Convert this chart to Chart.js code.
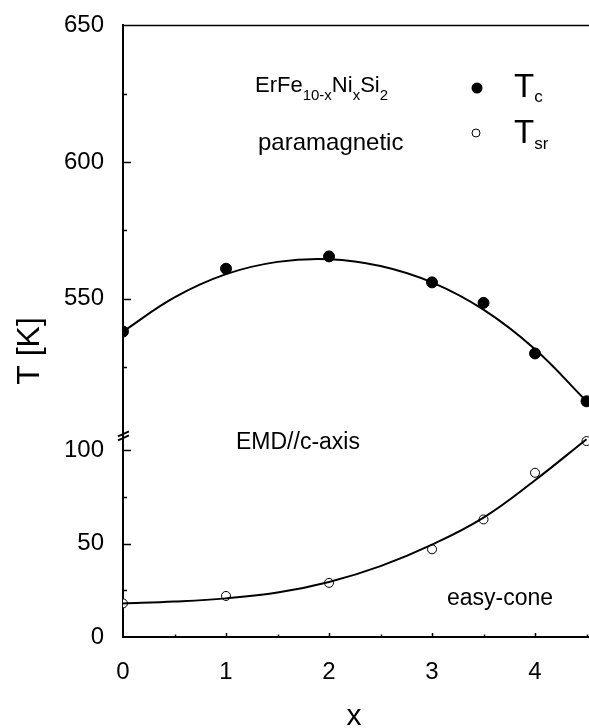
<!DOCTYPE html>
<html>
<head>
<meta charset="utf-8">
<script src="https://cdn.jsdelivr.net/npm/chart.js@4"></script>
<style>
  html, body { margin: 0; padding: 0; background: #fff; overflow: hidden; }
  #wrap { width: 589px; height: 728px; position: relative; }
</style>
</head>
<body>
<div id="wrap"><canvas id="chart"></canvas></div>
<script>
// valores
const xMedidos = [0, 1, 2, 3, 3.5, 4, 4.5];
const tcMedidos = [538, 561, 565.5, 556, 548.5, 530, 512.5];
const tsrMedidos = [18, 22, 29, 47, 63, 88, 105];

// curvas de ajuste
const xAjuste = [0, 0.5, 1, 1.5, 2, 2.5, 3, 3.5, 4, 4.5];
const tcAjuste = [538, 550.5, 559, 563.5, 564.5, 562, 556, 546, 531.5, 512.5];
const tsrAjuste = [18, 19, 20.7, 23.8, 29.5, 38, 49.5, 64, 84, 106];

const xTicks = [0, 1, 2, 3, 4];
const ticksArriba = [550, 600, 650];
const ticksAbajo = [0, 50, 100];

const FONT = "'Liberation Sans', Arial, sans-serif";

const pares = (xs, ys) => xs.map((x, i) => ({ x, y: ys[i] }));

// texto con subindices: [[texto, esSub], ...]
function textoSub(ctx, x, y, partes, size, subSize, subDy) {
  let cx = x;
  partes.forEach(([t, sub]) => {
    ctx.font = `${sub ? subSize : size}px ${FONT}`;
    ctx.fillText(t, cx, sub ? y + subDy : y);
    cx += ctx.measureText(t).width;
  });
}

const decoracion = {
  id: 'decoracion',
  afterDraw(chart) {
    const { ctx, chartArea, scales } = chart;
    const xs = scales.x, yA = scales.yArriba, yB = scales.yAbajo;
    ctx.save();
    ctx.strokeStyle = '#000';
    ctx.fillStyle = '#000';

    // marco superior
    ctx.lineWidth = 1.5;
    ctx.beginPath();
    ctx.moveTo(chartArea.left, chartArea.top);
    ctx.lineTo(chartArea.right, chartArea.top);
    ctx.stroke();

    // ticks hacia adentro
    ctx.lineWidth = 1.5;
    const tickY = (scale, v, len) => {
      const p = Math.round(scale.getPixelForValue(v)) + 0.5;
      ctx.beginPath();
      ctx.moveTo(chartArea.left, p);
      ctx.lineTo(chartArea.left + len, p);
      ctx.stroke();
    };
    [550, 600].forEach(v => tickY(yA, v, 8));
    [525, 575, 625].forEach(v => tickY(yA, v, 4));
    [50, 100].forEach(v => tickY(yB, v, 8));
    [25, 75].forEach(v => tickY(yB, v, 4));
    const tickX = (v, len) => {
      const p = Math.round(xs.getPixelForValue(v)) + 0.5;
      ctx.beginPath();
      ctx.moveTo(p, chartArea.bottom);
      ctx.lineTo(p, chartArea.bottom - len);
      ctx.stroke();
    };
    [1, 2, 3, 4].forEach(v => tickX(v, 4));
    [0.5, 1.5, 2.5, 3.5, 4.5].forEach(v => tickX(v, 2.5));

    // corte del eje
    const yc = yA.bottom;
    ctx.lineWidth = 2;
    [-2, 2].forEach(d => {
      ctx.beginPath();
      ctx.moveTo(chartArea.left - 5, yc + d + 3);
      ctx.lineTo(chartArea.left + 6, yc + d - 2);
      ctx.stroke();
    });

    // titulos de ejes
    ctx.textBaseline = 'alphabetic';
    ctx.textAlign = 'center';
    ctx.font = `32px ${FONT}`;
    ctx.save();
    ctx.translate(39, 351);
    ctx.rotate(-Math.PI / 2);
    ctx.fillText('T [K]', 0, 0);
    ctx.restore();
    ctx.font = `30px ${FONT}`;
    ctx.fillText('x', 354, 725);

    // anotaciones
    ctx.textAlign = 'left';
    textoSub(ctx, 255, 92, [['ErFe', false], ['10-x', true], ['Ni', false], ['x', true], ['Si', false], ['2', true]], 22, 15, 8);
    ctx.font = `24px ${FONT}`;
    ctx.fillText('paramagnetic', 258, 150);
    ctx.font = `23px ${FONT}`;
    ctx.fillText('EMD//c-axis', 236, 449);
    ctx.fillText('easy-cone', 447, 605);

    // leyenda
    ctx.beginPath();
    ctx.arc(477, 88, 5.5, 0, Math.PI * 2);
    ctx.fill();
    ctx.lineWidth = 1;
    ctx.beginPath();
    ctx.arc(476, 133, 4, 0, Math.PI * 2);
    ctx.stroke();
    textoSub(ctx, 514, 97, [['T', false], ['c', true]], 33, 17, 5);
    textoSub(ctx, 514, 143, [['T', false], ['sr', true]], 33, 17, 6);

    ctx.restore();
  }
};

new Chart(document.getElementById('chart'), {
  type: 'scatter',
  data: {
    datasets: [
      {
        label: 'Tc ajuste', data: pares(xAjuste, tcAjuste), yAxisID: 'yArriba',
        showLine: true, borderColor: '#000', borderWidth: 2, pointRadius: 0, tension: 0.4
      },
      {
        label: 'Tsr ajuste', data: pares(xAjuste, tsrAjuste), yAxisID: 'yAbajo',
        showLine: true, borderColor: '#000', borderWidth: 2, pointRadius: 0, tension: 0.4
      },
      {
        label: 'Tc', data: pares(xMedidos, tcMedidos), yAxisID: 'yArriba',
        pointRadius: 5.5, backgroundColor: '#000', borderColor: '#000', borderWidth: 1
      },
      {
        label: 'Tsr', data: pares(xMedidos, tsrMedidos), yAxisID: 'yAbajo',
        pointRadius: 4.5, backgroundColor: '#fff', borderColor: '#000', borderWidth: 1
      }
    ]
  },
  options: {
    responsive: true,
    maintainAspectRatio: false,
    animation: false,
    events: [],
    layout: { autoPadding: false, padding: { top: 24, right: 0, left: 0, bottom: 0 } },
    plugins: { legend: { display: false }, tooltip: { enabled: false } },
    scales: {
      x: {
        type: 'linear', min: 0, max: 4.524,
        grid: { display: false },
        border: { display: true, color: '#000', width: 2 },
        afterFit: s => { s.height = 91; },
        afterBuildTicks: s => { s.ticks = xTicks.map(v => ({ value: v })); },
        ticks: { color: '#000', font: { family: FONT, size: 24 }, padding: 13, maxRotation: 0 }
      },
      yArriba: {
        type: 'linear', position: 'left', stack: 'y', stackWeight: 411, weight: 2,
        min: 500, max: 650,
        grid: { display: false },
        border: { display: true, color: '#000', width: 2 },
        afterFit: s => { s.width = 123; },
        afterBuildTicks: s => { s.ticks = ticksArriba.map(v => ({ value: v })); },
        ticks: { color: '#000', font: { family: FONT, size: 24 }, padding: 11 }
      },
      yAbajo: {
        type: 'linear', position: 'left', stack: 'y', stackWeight: 202, weight: 1,
        min: 0, max: 108,
        grid: { display: false },
        border: { display: true, color: '#000', width: 2 },
        afterFit: s => { s.width = 123; },
        afterBuildTicks: s => { s.ticks = ticksAbajo.map(v => ({ value: v })); },
        ticks: { color: '#000', font: { family: FONT, size: 24 }, padding: 11 }
      }
    }
  },
  plugins: [decoracion]
});
</script>
</body>
</html>
